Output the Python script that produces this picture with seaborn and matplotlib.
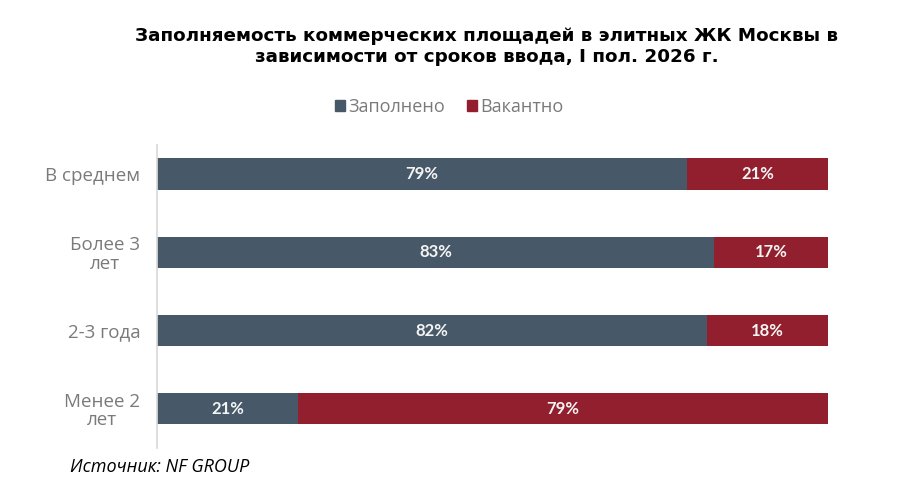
import matplotlib
matplotlib.use("Agg")
import matplotlib.pyplot as plt
import seaborn as sns
import pandas as pd
from matplotlib.patches import Patch

sns.set_theme(style="white")
plt.rcParams['font.family'] = ['Open Sans', 'DejaVu Sans']

categories = ['В среднем', 'Более 3\nлет', '2-3 года', 'Менее 2\nлет']
filled = [79, 83, 82, 21]
vacant = [21, 17, 18, 79]

FILLED_C = '#475868'
VACANT_C = '#921f2d'

df = pd.DataFrame({'cat': categories, 'filled': filled, 'vacant': vacant})
df['total'] = df['filled'] + df['vacant']

fig = plt.figure(figsize=(9.23, 4.79), dpi=100)
ax = fig.add_axes([0.170, 0.065, 0.727, 0.632])

sns.barplot(data=df, y='cat', x='total', color=VACANT_C, orient='h', width=0.4, ax=ax,
            saturation=1, linewidth=0)
sns.barplot(data=df, y='cat', x='filled', color=FILLED_C, orient='h', width=0.4, ax=ax,
            saturation=1, linewidth=0)

for i, (f, v) in enumerate(zip(filled, vacant)):
    ax.text(f / 2, i, f"{f}%", color='#f4f4f4', fontweight='bold', ha='center', va='center',
            fontsize=12, family='Lato')
    ax.text(f + v / 2, i, f"{v}%", color='#f4f4f4', fontweight='bold', ha='center', va='center',
            fontsize=12, family='Lato')

ax.set_xlim(0, 100)
ax.set_ylim(3.5, -0.37)
ax.set_xlabel('')
ax.set_ylabel('')
ax.set_xticks([])
for s in ['top', 'right', 'bottom']:
    ax.spines[s].set_visible(False)
ax.spines['left'].set_color('#d9d9d9')
ax.tick_params(axis='y', length=0, pad=12, labelsize=13.5, labelcolor='#7a7a7a')
for lbl in ax.get_yticklabels():
    lbl.set_multialignment('center')
    lbl.set_linespacing(1.05)

handles = [Patch(color=FILLED_C, label='Заполнено'), Patch(color=VACANT_C, label='Вакантно')]
leg = fig.legend(handles=handles, loc='center', bbox_to_anchor=(0.487, 0.777), ncol=2, frameon=False,
                 handlelength=0.55, handleheight=0.55, handletextpad=0.2, columnspacing=1.2, fontsize=13)
for t in leg.get_texts():
    t.set_color('#7a7a7a')

fig.text(0.527, 0.903, 'Заполняемость коммерческих площадей в элитных ЖК Москвы в\nзависимости от сроков ввода, I пол. 2026 г.',
         ha='center', va='center', fontsize=13.2, fontweight='bold', family='DejaVu Sans', color='black',
         linespacing=1.2)
fig.text(0.076, 0.025, 'Источник: NF GROUP', ha='left', va='center', fontsize=13, style='italic', color='black')

fig.savefig('out.png', dpi=100)
